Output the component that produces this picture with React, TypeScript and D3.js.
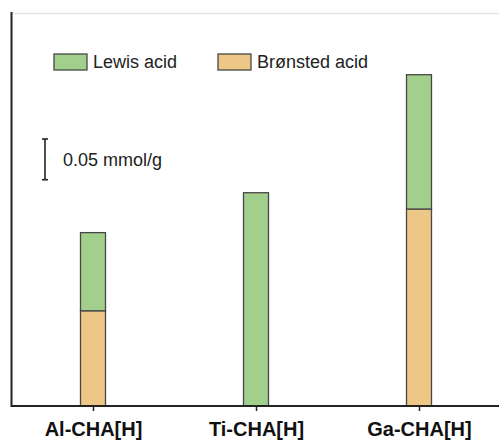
import { useRef, useEffect } from 'react';
import * as d3 from 'd3';

const categories = ['Al-CHA[H]', 'Ti-CHA[H]', 'Ga-CHA[H]'];
const bronstedValues = [0.117, 0, 0.242];
const lewisValues = [0.096, 0.262, 0.165];
const seriesNames = ['Lewis acid', 'Brønsted acid'];
const scaleBarValue = 0.05;
const scaleBarLabel = '0.05 mmol/g';

const colors: Record<string, string> = {
  'Lewis acid': '#a2cf8c',
  'Brønsted acid': '#ecc785',
};

export default function App() {
  const svgRef = useRef<SVGSVGElement>(null);

  useEffect(() => {
    if (!svgRef.current) return;
    const width = 499;
    const height = 443;
    const margin = { top: 13, right: 0, bottom: 37, left: 11 };
    const innerWidth = width - margin.left - margin.right;
    const innerHeight = height - margin.top - margin.bottom;

    const svg = d3.select(svgRef.current);
    svg.selectAll('*').remove();
    svg.attr('width', width).attr('height', height);

    const g = svg.append('g').attr('transform', `translate(${margin.left},${margin.top})`);

    // 0.05 mmol/g spans ~40.7px in the reference
    const yMax = (innerHeight / 40.7) * scaleBarValue;
    const y = d3.scaleLinear().domain([0, yMax]).range([innerHeight, 0]);
    const x = d3
      .scalePoint<string>()
      .domain(categories)
      .range([82, 408]);
    const barW = 25;

    const rows = categories.map((c, i) => ({
      cat: c,
      'Brønsted acid': bronstedValues[i],
      'Lewis acid': lewisValues[i],
    }));
    const stacked = d3.stack<any>().keys(['Brønsted acid', 'Lewis acid'])(rows);

    // top frame line
    g.append('line')
      .attr('x1', 0)
      .attr('x2', innerWidth)
      .attr('y1', 0.5)
      .attr('y2', 0.5)
      .attr('stroke', '#e6e6e6')
      .attr('stroke-width', 1.5);

    stacked.forEach((layer) => {
      g.selectAll(null)
        .data(layer.filter((d) => d[1] - d[0] > 0))
        .enter()
        .append('rect')
        .attr('x', (d) => (x(d.data.cat) || 0) - barW / 2)
        .attr('y', (d) => y(d[1]))
        .attr('width', barW)
        .attr('height', (d) => y(d[0]) - y(d[1]))
        .attr('fill', colors[layer.key])
        .attr('stroke', '#474747')
        .attr('stroke-width', 1.3);
    });

    // X axis
    g.append('g')
      .attr('transform', `translate(0,${innerHeight})`)
      .call(d3.axisBottom(x).tickSize(5).tickPadding(11))
      .call((a) => a.select('.domain').remove())
      .call((a) => a.selectAll('.tick line').attr('stroke', '#222').attr('stroke-width', 1.5))
      .call((a) =>
        a
          .selectAll('.tick text')
          .attr('fill', '#111')
          .attr('font-size', '20px')
          .attr('font-weight', 'bold')
          .attr('font-family', 'Liberation Sans, Arial, sans-serif')
      );

    g.append('line')
      .attr('x1', 0)
      .attr('x2', innerWidth)
      .attr('y1', innerHeight)
      .attr('y2', innerHeight)
      .attr('stroke', '#222')
      .attr('stroke-width', 2);

    g.append('line')
      .attr('x1', 0.5)
      .attr('x2', 0.5)
      .attr('y1', -1)
      .attr('y2', innerHeight + 1)
      .attr('stroke', '#222')
      .attr('stroke-width', 2);

    // Legend
    const legendX = [43, 207];
    seriesNames.forEach((name, i) => {
      const lg = g.append('g').attr('transform', `translate(${legendX[i]},${41})`);
      lg.append('rect')
        .attr('width', 33)
        .attr('height', 16)
        .attr('fill', colors[name])
        .attr('stroke', '#474747')
        .attr('stroke-width', 1.3);
      lg.append('text')
        .attr('x', 39)
        .attr('y', 8)
        .attr('dy', '0.35em')
        .attr('font-size', '18px')
        .attr('font-family', 'Liberation Sans, Arial, sans-serif')
        .attr('fill', '#222')
        .text(name);
    });

    // Scale bar
    const sbX = 34;
    const sbTop = 126;
    const sbBottom = sbTop + (y(0) - y(scaleBarValue));
    g.append('line')
      .attr('x1', sbX)
      .attr('x2', sbX)
      .attr('y1', sbTop)
      .attr('y2', sbBottom)
      .attr('stroke', '#222')
      .attr('stroke-width', 1.6);
    [sbTop, sbBottom].forEach((yy) =>
      g.append('line')
        .attr('x1', sbX - 3)
        .attr('x2', sbX + 3)
        .attr('y1', yy)
        .attr('y2', yy)
        .attr('stroke', '#222')
        .attr('stroke-width', 1.6)
    );
    g.append('text')
      .attr('x', 52)
      .attr('y', (sbTop + sbBottom) / 2)
      .attr('dy', '0.35em')
      .attr('font-size', '18px')
      .attr('font-family', 'Liberation Sans, Arial, sans-serif')
      .attr('fill', '#222')
      .text(scaleBarLabel);
  }, []);

  return (
    <svg
      ref={svgRef}
      style={{ position: 'absolute', left: 0, top: 0, display: 'block', background: '#fff' }}
    />
  );
}
